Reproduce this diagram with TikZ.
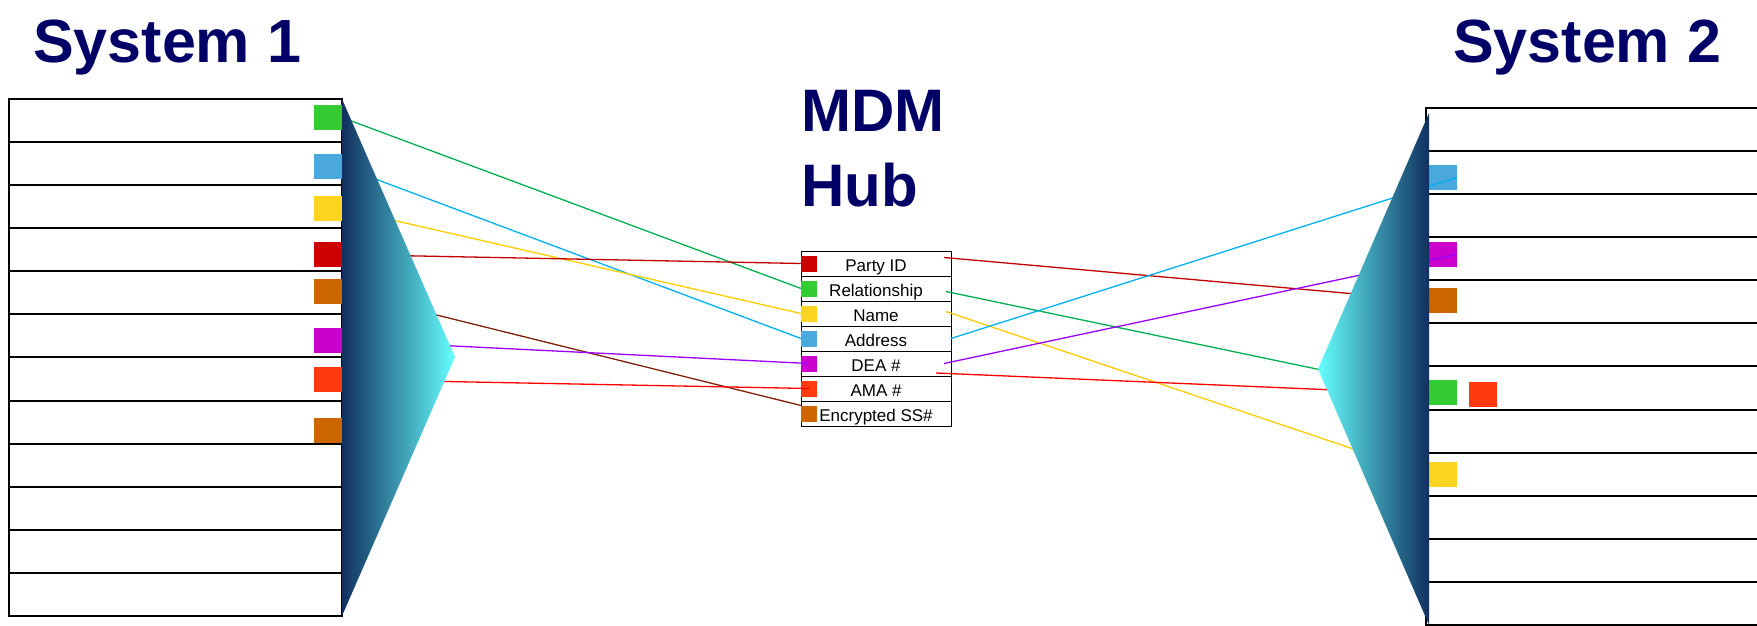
\documentclass[tikz,border=0pt]{standalone}
\usepackage{fontspec}
\setmainfont{Liberation Sans}
\usetikzlibrary{positioning}

\definecolor{titleblue}{HTML}{000066}
\definecolor{sqGreen}{HTML}{33CC33}
\definecolor{sqBlue}{HTML}{4AA8DC}
\definecolor{sqYellow}{HTML}{FDD420}
\definecolor{sqRed}{HTML}{CC0000}
\definecolor{sqBrown}{HTML}{CC6600}
\definecolor{sqMagenta}{HTML}{CC00CC}
\definecolor{sqOrange}{HTML}{FF3A0E}
\definecolor{lnGreen}{HTML}{00B050}
\definecolor{lnBlue}{HTML}{00B0F0}
\definecolor{lnYellow}{HTML}{FFCC00}
\definecolor{lnDarkRed}{HTML}{C00000}
\definecolor{lnMaroon}{HTML}{80200A}
\definecolor{lnPurple}{HTML}{9900FF}
\definecolor{lnRed}{HTML}{FF0000}
\definecolor{wedgeDark}{HTML}{10305F}
\definecolor{wedgeLight}{HTML}{66FFFF}

\begin{document}
\begin{tikzpicture}[x=1pt, y=-1pt,
    rowbox/.style = {draw, line width=2pt, minimum width=333pt,
                     minimum height=43.08pt, inner sep=0pt, outer sep=0pt},
    rowboxwide/.style = {rowbox, minimum width=340pt},
    keybox/.style = {minimum width=28pt, minimum height=25pt,
                     inner sep=0pt, outer sep=0pt},
    hubrow/.style = {draw, line width=1pt, minimum width=150pt,
                     minimum height=25pt, inner sep=0pt, outer sep=0pt,
                     text height=17pt, text depth=2pt,
                     font=\fontsize{17}{20}\selectfont},
    hubkey/.style = {minimum size=16pt, inner sep=0pt, outer sep=0pt},
    link/.style = {line width=1.3pt},
    title/.style = {text=titleblue, inner sep=0pt,
                    font=\fontsize{61}{75}\bfseries\selectfont}
                    ]
\useasboundingbox (0,0) rectangle (1757,626);

% system 1 and system 2 tables
\foreach \i in {0,...,11}{
  \node (s1r\i) [rowbox, anchor=north west] at (9, {99+43.08*\i}) {};
  \node (s2r\i) [rowboxwide, anchor=north west] at (1426, {108+43.08*\i}) {};
}

% keys of system 1
\foreach \c/\y [count=\k] in {sqGreen/117.5, sqBlue/166.5, sqYellow/208.5,
    sqRed/254.5, sqBrown/291.5, sqMagenta/340.5, sqOrange/379.5, sqBrown/430.5}
  \node (s1q\k) [keybox, fill=\c, anchor=east] at (342, \y) {};

% keys of system 2
\node (s2qBlue)    [keybox, fill=sqBlue, anchor=west]    at (1429, 177.5) {};
\node (s2qMagenta) [keybox, fill=sqMagenta, anchor=west] at (1429, 254.5) {};
\node (s2qBrown)   [keybox, fill=sqBrown, anchor=west]   at (1429, 300.5) {};
\node (s2qGreen)   [keybox, fill=sqGreen, anchor=west]   at (1429, 392.5) {};
\node (s2qOrange)  [keybox, fill=sqOrange, right=12pt of s2qGreen, yshift=-2pt] {};
\node (s2qYellow)  [keybox, fill=sqYellow, anchor=west]  at (1429, 474.5) {};
\coordinate (amaEnd) at (1429, 394);

% MDM hub
\foreach \nm/\txt/\c [count=\k] in {Party/Party ID/sqRed, Rel/Relationship/sqGreen,
    Name/Name/sqYellow, Addr/Address/sqBlue, DEA/DEA \#/sqMagenta,
    AMA/AMA \#/sqOrange, Enc/Encrypted SS\#/sqBrown}{
  \node (h\nm) [hubrow] at (876, {238.5+25*\k}) {\txt};
  \node (q\nm) [hubkey, fill=\c, anchor=west] at (h\nm.west) {};
}

% links system 1 -> hub
\draw[link, lnGreen]   (s1q1.east) -- (qRel.west);
\draw[link, lnBlue]    (s1q2.east) -- (qAddr.west);
\draw[link, lnYellow]  (s1q3.east) -- (qName.west);
\draw[link, lnDarkRed] (s1q4.east) -- (qParty.west);
\draw[link, lnMaroon]  (s1q5.east) -- (qEnc.north west);
\draw[link, lnPurple]  (s1q6.east) -- (qDEA.center);
\draw[link, lnRed]     (s1q7.east) -- (qAMA.center);

% links hub -> system 2
\draw[link, lnDarkRed] ([xshift=-7pt, yshift=6pt]hParty.east) -- (s2qBrown.west);
\draw[link, lnGreen]   ([xshift=-5pt, yshift=-3pt]hRel.east) -- (s2qGreen.west);
\draw[link, lnYellow]  ([xshift=-5pt, yshift=2pt]hName.east) -- (s2qYellow.west);
\draw[link, lnBlue]    (hAddr.east) -- (s2qBlue.east);
\draw[link, lnPurple]  ([xshift=-7pt]hDEA.east) -- (s2qMagenta.east);
\draw[link, lnRed]     ([xshift=-15pt, yshift=3pt]hDEA.south east) -- (amaEnd);

% wedges
\shade[left color=wedgeDark, right color=wedgeLight]
  (s1r0.north east) -- (455, 357) -- (s1r11.south east) -- cycle;
\shade[left color=wedgeLight, right color=wedgeDark]
  (1429, 113) -- (1318, 369) -- (1429, 625) -- cycle;

% titles
\node (sys1) [title, anchor=base west] at (33, 63) {System 1};
\node (sys2) [title, anchor=base west] at (1453, 63) {System 2};
\node (hub)  [title, anchor=north west, align=left,
              font=\fontsize{60}{75}\bfseries\selectfont] at (801, 90) {MDM\\Hub};
\end{tikzpicture}
\end{document}
